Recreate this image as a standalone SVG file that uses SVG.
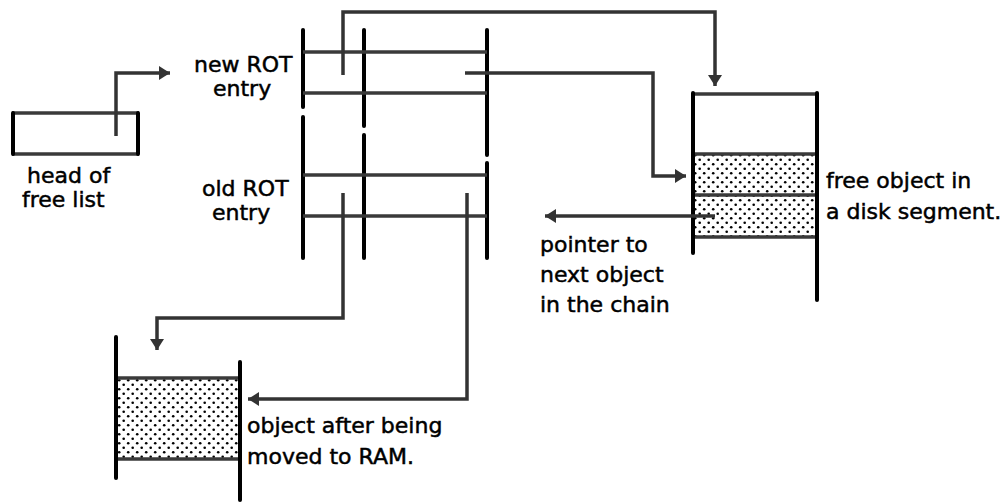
<svg xmlns="http://www.w3.org/2000/svg" width="1005" height="502" viewBox="0 0 1005 502">
<defs>
<pattern id="dots" width="9" height="9" patternUnits="userSpaceOnUse">
<circle cx="2.2" cy="2.2" r="1.3" fill="#000"/>
<circle cx="6.7" cy="6.7" r="1.3" fill="#000"/>
</pattern>
<marker id="ah" markerWidth="14" markerHeight="16" refX="11" refY="8" orient="auto" markerUnits="userSpaceOnUse">
<path d="M0,1 L11,8 L0,15 Z" fill="#333"/>
</marker>
</defs>
<style>
text{font-family:"DejaVu Sans","Liberation Sans",sans-serif;font-size:22px;fill:#000;stroke:#000;stroke-width:0.5}
.bar{stroke:#000;stroke-width:4;fill:none;stroke-linecap:round}
.hl{stroke:#3a3a3a;stroke-width:3.5;fill:none}
.con{stroke:#333;stroke-width:3.5;fill:none;stroke-linejoin:miter}
.stip{fill:url(#dots)}
</style>
<rect width="1005" height="502" fill="#fff"/>

<g id="head-of-free-list">
<line class="hl" x1="12" y1="113" x2="139" y2="113"/>
<line class="hl" x1="12" y1="154" x2="139" y2="154"/>
<line class="bar" x1="13" y1="113" x2="13" y2="154"/>
<line class="bar" x1="138" y1="113" x2="138" y2="154"/>
<text x="27" y="183">head of</text>
<text x="22" y="207">free list</text>
</g>

<g id="new-rot-entry">
<line class="bar" x1="303" y1="30" x2="303" y2="107"/>
<line class="bar" x1="364" y1="30" x2="364" y2="126"/>
<line class="bar" x1="487" y1="30" x2="487" y2="155"/>
<line class="hl" x1="303" y1="52" x2="487" y2="52"/>
<line class="hl" x1="303" y1="93" x2="487" y2="93"/>
<text x="194" y="72">new ROT</text>
<text x="213" y="96">entry</text>
</g>

<g id="old-rot-entry">
<line class="bar" x1="303" y1="117" x2="303" y2="258"/>
<line class="bar" x1="364" y1="135" x2="364" y2="258"/>
<line class="bar" x1="487" y1="163" x2="487" y2="258"/>
<line class="hl" x1="303" y1="175" x2="487" y2="175"/>
<line class="hl" x1="303" y1="216" x2="487" y2="216"/>
<text x="202" y="196">old ROT</text>
<text x="212" y="220">entry</text>
</g>

<g id="disk-segment">
<rect class="stip" x="693" y="154" width="124" height="83"/>
<line class="hl" x1="693" y1="94" x2="817" y2="94"/>
<line class="hl" x1="693" y1="154" x2="817" y2="154"/>
<line class="hl" x1="693" y1="195" x2="817" y2="195"/>
<line class="hl" x1="693" y1="237" x2="817" y2="237"/>
<line class="bar" x1="693" y1="93" x2="693" y2="253"/>
<line class="bar" x1="817" y1="93" x2="817" y2="300"/>
<text x="826" y="188">free object in</text>
<text x="826" y="219">a disk segment.</text>
</g>

<g id="ram-object">
<rect class="stip" x="116" y="378" width="124" height="81"/>
<line class="hl" x1="116" y1="378" x2="240" y2="378"/>
<line class="hl" x1="116" y1="459" x2="240" y2="459"/>
<line class="bar" x1="116" y1="337" x2="116" y2="478"/>
<line class="bar" x1="240" y1="362" x2="240" y2="500"/>
<text x="247" y="433">object after being</text>
<text x="247" y="464">moved to RAM.</text>
</g>

<g id="pointer-label">
<text x="540" y="252">pointer to</text>
<text x="540" y="282">next object</text>
<text x="540" y="312">in the chain</text>
</g>

<g id="connectors">
<path class="con" d="M116,136 V73 H170" marker-end="url(#ah)"/>
<path class="con" d="M343,75 V12 H715 V86" marker-end="url(#ah)"/>
<path class="con" d="M465,73 H653 V176 H686" marker-end="url(#ah)"/>
<path class="con" d="M715,216 H545" marker-end="url(#ah)"/>
<path class="con" d="M343,193 V318 H157 V350" marker-end="url(#ah)"/>
<path class="con" d="M467,193 V399 H248" marker-end="url(#ah)"/>
</g>
</svg>
